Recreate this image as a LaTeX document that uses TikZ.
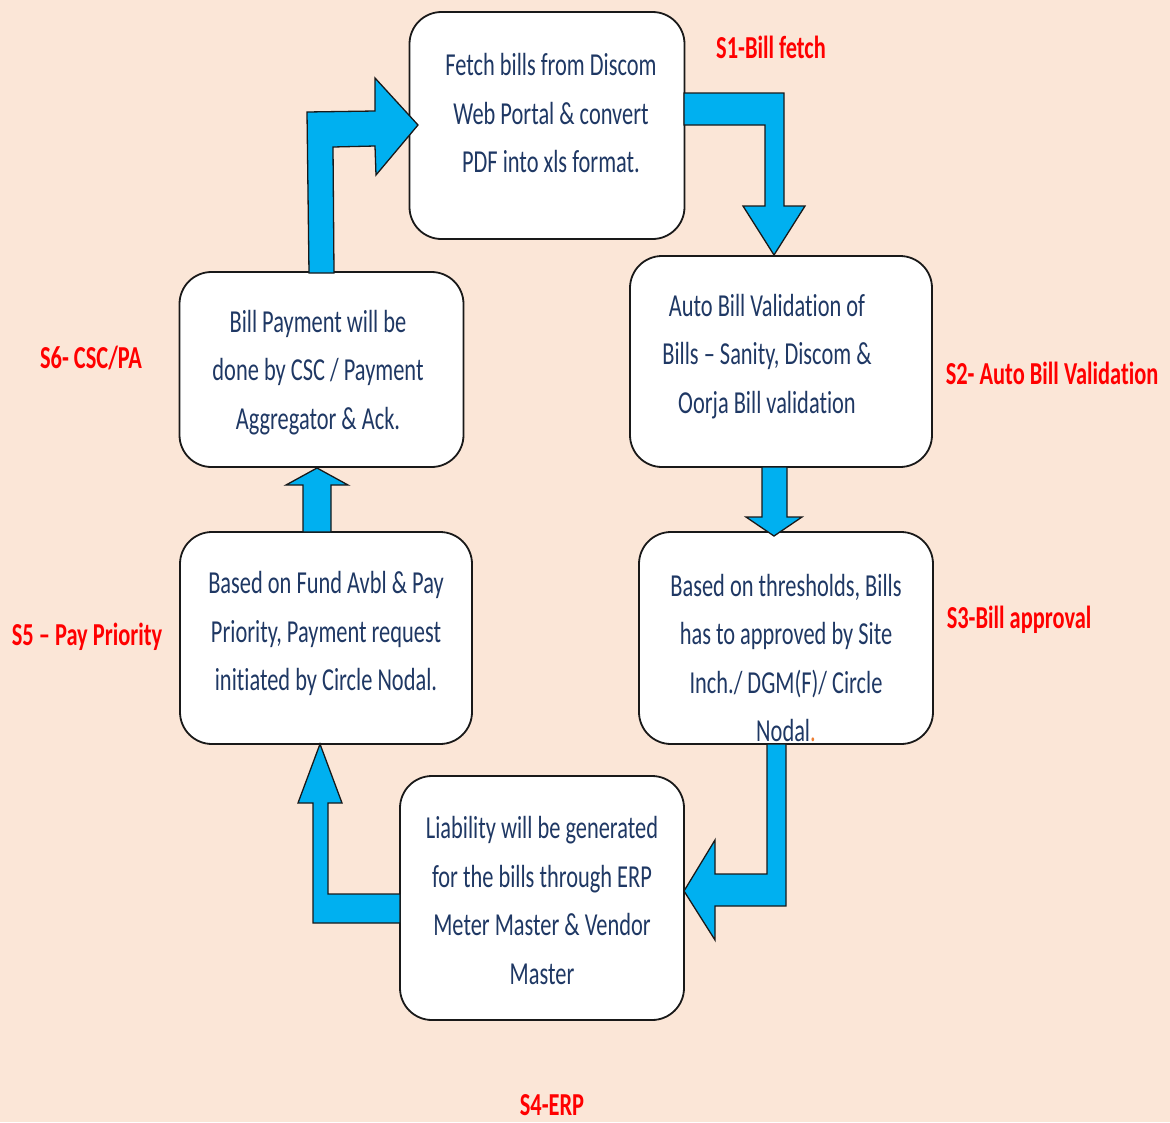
\documentclass[tikz,border=0pt]{standalone}
\usepackage{fontspec}
\setmainfont{Carlito}[FakeStretch=0.7, Ligatures=CommonOff]
\usetikzlibrary{calc}
\definecolor{bgpeach}{HTML}{FBE6D7}
\definecolor{flowblue}{HTML}{00B0F0}
\definecolor{textnavy}{HTML}{1F3864}
\definecolor{stepred}{HTML}{FF0000}
\definecolor{dotorange}{HTML}{ED7D31}
\tikzset{
  stagebox/.style={draw=black!90, line width=1.8pt, fill=white, rounded corners=32pt,
    rectangle, inner sep=0pt},
  stagetext/.style={align=center, text=textnavy, inner sep=0pt,
    font=\fontsize{32}{48.5}\selectfont},
  blockarrow/.style={fill=flowblue, draw=black!90, line width=1.3pt, line join=miter},
  steplabel/.style={text=stepred, anchor=base, inner sep=0pt,
    font=\fontsize{32}{38}\selectfont\bfseries},
}
\begin{document}
\begin{tikzpicture}[x=1pt, y=-1pt]
  % page
  \fill[bgpeach] (0,0) rectangle (1170,1122);
  \useasboundingbox (0,0) rectangle (1170,1122);

  % stage boxes
  \node[stagebox, minimum width=275pt, minimum height=227pt] (s1) at (547,125.5) {};
  \node[stagebox, minimum width=302pt, minimum height=211pt] (s2) at (781,361.5) {};
  \node[stagebox, minimum width=294pt, minimum height=212pt] (s3) at (786,638) {};
  \node[stagebox, minimum width=284pt, minimum height=244pt] (s4) at (542,898) {};
  \node[stagebox, minimum width=292pt, minimum height=212pt] (s5) at (326,638) {};
  \node[stagebox, minimum width=284pt, minimum height=195pt] (s6) at (321.5,369.5) {};

  % block arrows between the stages
  % S6 -> S1
  \draw[blockarrow] (309,273) -- (307,112) -- (375,111) -- (375,78) -- (418,125)
    -- (376,175) -- (375,146) -- (333,147) -- (334,273) -- cycle;
  % S1 -> S2
  \draw[blockarrow] (684,93) -- (784,93) -- (784,206) -- (805,206) -- (774,255)
    -- (743,206) -- (765,206) -- (765,125) -- (684,125) -- cycle;
  % S2 -> S3
  \draw[blockarrow] (762,467) -- (787,467) -- (787,517) -- (802,517) -- (774,536)
    -- (746,517) -- (762,517) -- cycle;
  % S3 -> S4
  \draw[blockarrow] (767,744) -- (786,744) -- (786,906) -- (715,906) -- (715,940)
    -- (684,891) -- (715,840) -- (715,874) -- (767,874) -- cycle;
  % S4 -> S5
  \draw[blockarrow] (400,894) -- (400,923) -- (313,923) -- (313,803) -- (298,803)
    -- (320,744) -- (342,803) -- (328,803) -- (328,894) -- cycle;
  % S5 -> S6
  \draw[blockarrow] (303,532) -- (303,485) -- (286,485) -- (317,468) -- (348,485)
    -- (331,485) -- (331,532) -- cycle;

  % stage descriptions
  \node[stagetext] (t1) at (551,113.5) {Fetch bills from Discom\\Web Portal \& convert\\PDF into xls format.};
  \node[stagetext] (t2) at (767,356.5) {Auto Bill Validation of\\Bills – Sanity, Discom \&\\Oorja Bill validation};
  \node[stagetext] (t3) at (786,658) {Based on thresholds, Bills\\has to approved by Site\\Inch./ DGM(F)/ Circle\\Nodal{\color{dotorange}.}};
  \node[stagetext] (t4) at (542,900.5) {Liability will be generated\\for the bills through ERP\\Meter Master \& Vendor\\Master};
  \node[stagetext] (t5) at (326,633.5) {Based on Fund Avbl \& Pay\\Priority, Payment request\\initiated by Circle Nodal.};
  \node[stagetext] (t6) at (318,372.5) {Bill Payment will be\\done by CSC / Payment\\Aggregator \& Ack.};

  % stage labels
  \node[steplabel] (l1) at (771,58) {S1-Bill fetch};
  \node[steplabel] (l2) at (1052,384) {S2- Auto Bill Validation};
  \node[steplabel] (l3) at (1019,628) {S3-Bill approval};
  \node[steplabel] (l4) at (552,1115) {S4-ERP};
  \node[steplabel] (l5) at (87,645) {S5 – Pay Priority};
  \node[steplabel] (l6) at (91,368) {S6- CSC/PA};
\end{tikzpicture}
\end{document}
